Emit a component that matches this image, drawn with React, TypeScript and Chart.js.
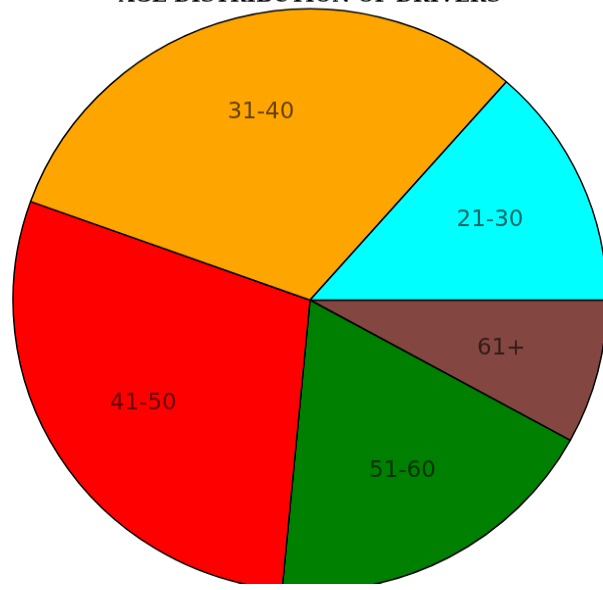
import React, { useEffect, useRef } from "react";
import { Chart, registerables } from "chart.js";

Chart.register(...registerables);

const TITLE = "AGE DISTRIBUTION OF DRIVERS";
const categories = ["21-30", "31-40", "41-50", "51-60", "61+"];
const shares = [13.5, 31, 29, 18.5, 8];
const sliceColors = ["#00FFFF", "#FFA500", "#FF0000", "#008000", "#844640"];

const sliceLabelPlugin = {
  id: "sliceLabels",
  afterDatasetsDraw(chart: any) {
    const ctx = chart.ctx;
    const meta = chart.getDatasetMeta(0);
    const labels = chart.data.labels as string[];
    ctx.save();
    ctx.font = "23px 'DejaVu Sans'";
    ctx.fillStyle = "rgba(0,0,0,0.6)";
    ctx.textAlign = "center";
    ctx.textBaseline = "middle";
    meta.data.forEach((arc: any, i: number) => {
      const p = arc.getProps(["x", "y", "startAngle", "endAngle", "outerRadius"], true);
      const mid = (p.startAngle + p.endAngle) / 2;
      const d = p.outerRadius * 0.665;
      ctx.fillText(labels[i], p.x + Math.cos(mid) * d, p.y + Math.sin(mid) * d);
    });
    ctx.restore();
  },
};

export default function App() {
  const ref = useRef<HTMLCanvasElement | null>(null);
  useEffect(() => {
    if (!ref.current) return;
    // matplotlib draws counter-clockwise from 3 o'clock; Chart.js goes clockwise
    const labels = [...categories].reverse();
    const data = [...shares].reverse();
    const colors = [...sliceColors].reverse();
    const chart = new Chart(ref.current, {
      type: "pie",
      data: {
        labels,
        datasets: [
          {
            data,
            backgroundColor: colors,
            borderColor: "#000000",
            borderWidth: 1.5,
            clip: false,
          } as any,
        ],
      },
      options: {
        animation: false,
        responsive: false,
        devicePixelRatio: 1,
        rotation: 90,
        radius: 297,
        layout: { padding: 0 },
        plugins: {
          legend: { display: false },
          tooltip: { enabled: false },
          title: {
            display: true,
            text: TITLE,
            color: "#000000",
            font: { family: "'DejaVu Serif'", size: 20, weight: "bold" },
            padding: { top: 0, bottom: 8 },
          },
        },
      } as any,
      plugins: [sliceLabelPlugin],
    });
    return () => chart.destroy();
  }, []);
  return (
    <div
      style={{
        position: "fixed",
        left: 0,
        top: 0,
        width: 603,
        height: 590,
        overflow: "hidden",
        background: "#ffffff",
      }}
    >
      <div
        style={{
          position: "absolute",
          left: 0,
          top: -15,
          transform: "scaleY(0.98)",
          transformOrigin: "0 0",
        }}
      >
        <canvas ref={ref} width={620} height={611} style={{ display: "block" }} />
      </div>
    </div>
  );
}
